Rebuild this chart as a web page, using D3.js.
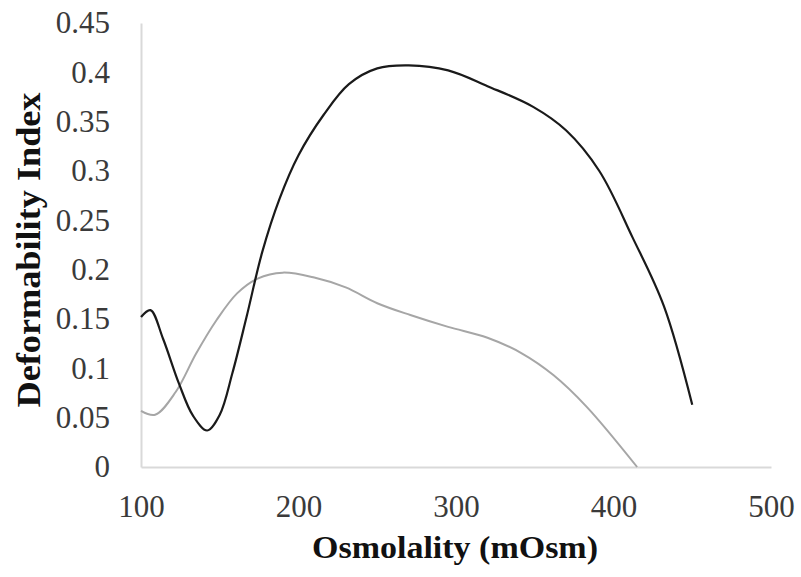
<!DOCTYPE html>
<html>
<head>
<meta charset="utf-8">
<script src="https://cdn.jsdelivr.net/npm/d3@7"></script>
<style>
  html, body { margin: 0; padding: 0; background: #fff; }
  svg { display: block; }
</style>
</head>
<body>
<svg id="chart" width="801" height="577"></svg>
<script>
// Data
const xTicks = [100, 200, 300, 400, 500];
const yTicks = [0, 0.05, 0.1, 0.15, 0.2, 0.25, 0.3, 0.35, 0.4, 0.45];

const blackX = [100, 106, 114, 124, 133, 142, 150, 158, 167, 177, 188, 200, 216, 232, 250, 270, 295, 320, 349, 370, 391, 412, 432, 450];
const blackY = [0.152, 0.159, 0.13, 0.085, 0.052, 0.037, 0.053, 0.095, 0.152, 0.218, 0.272, 0.316, 0.357, 0.388, 0.404, 0.407, 0.402, 0.386, 0.365, 0.341, 0.3, 0.233, 0.163, 0.063];

const grayX = [100, 109, 122, 135, 148, 161, 174, 190, 210, 230, 250, 271, 295, 320, 342, 362, 383, 415];
const grayY = [0.057, 0.053, 0.076, 0.115, 0.149, 0.176, 0.191, 0.197, 0.192, 0.182, 0.166, 0.154, 0.142, 0.131, 0.115, 0.093, 0.061, 0.0];

const xLabel = "Osmolality (mOsm)";
const yLabel = "Deformability Index";

const svg = d3.select("#chart");
const x = d3.scaleLinear().domain([100, 500]).range([141, 771]);
const y = d3.scaleLinear().domain([0, 0.45]).range([467, 23]);

const serif = "'Liberation Serif', 'Times New Roman', serif";

// Axes (lines only, no ticks)
const xAxis = d3.axisBottom(x).tickValues(xTicks).tickSize(0).tickPadding(28).tickFormat(d3.format("d"));
const yAxis = d3.axisLeft(y).tickValues(yTicks).tickSize(0).tickPadding(31).tickFormat(d => d === 0 ? "0" : String(+d.toFixed(2)));

const gx = svg.append("g").attr("transform", `translate(0,${y(0)})`).call(xAxis);
const gy = svg.append("g").attr("transform", `translate(${x(100)},0)`).call(yAxis);

[gx, gy].forEach(g => {
  g.select(".domain").attr("stroke", "#d9d9d9").attr("stroke-width", 2);
  g.selectAll("text").attr("font-family", serif).attr("font-size", 31).attr("fill", "#3a3a3a");
});
gx.selectAll("text").attr("dy", "0.71em");

// Lines
const line = d3.line().x(d => x(d[0])).y(d => y(d[1])).curve(d3.curveCatmullRom.alpha(0.5));

svg.append("path")
  .datum(grayX.map((v, i) => [v, grayY[i]]))
  .attr("fill", "none").attr("stroke", "#a6a6a6").attr("stroke-width", 2)
  .attr("d", line);

svg.append("path")
  .datum(blackX.map((v, i) => [v, blackY[i]]))
  .attr("fill", "none").attr("stroke", "#1a1a1a").attr("stroke-width", 2.2)
  .attr("d", line);

// Axis titles
svg.append("text")
  .attr("x", 455).attr("y", 558)
  .attr("text-anchor", "middle")
  .attr("font-family", serif).attr("font-weight", "bold").attr("font-size", 31)
  .attr("fill", "#111")
  .attr("textLength", 286).attr("lengthAdjust", "spacingAndGlyphs")
  .text(xLabel);

svg.append("text")
  .attr("transform", "translate(40,250) rotate(-90)")
  .attr("text-anchor", "middle")
  .attr("font-family", serif).attr("font-weight", "bold").attr("font-size", 33)
  .attr("fill", "#111")
  .attr("textLength", 315).attr("lengthAdjust", "spacingAndGlyphs")
  .text(yLabel);
</script>
</body>
</html>
